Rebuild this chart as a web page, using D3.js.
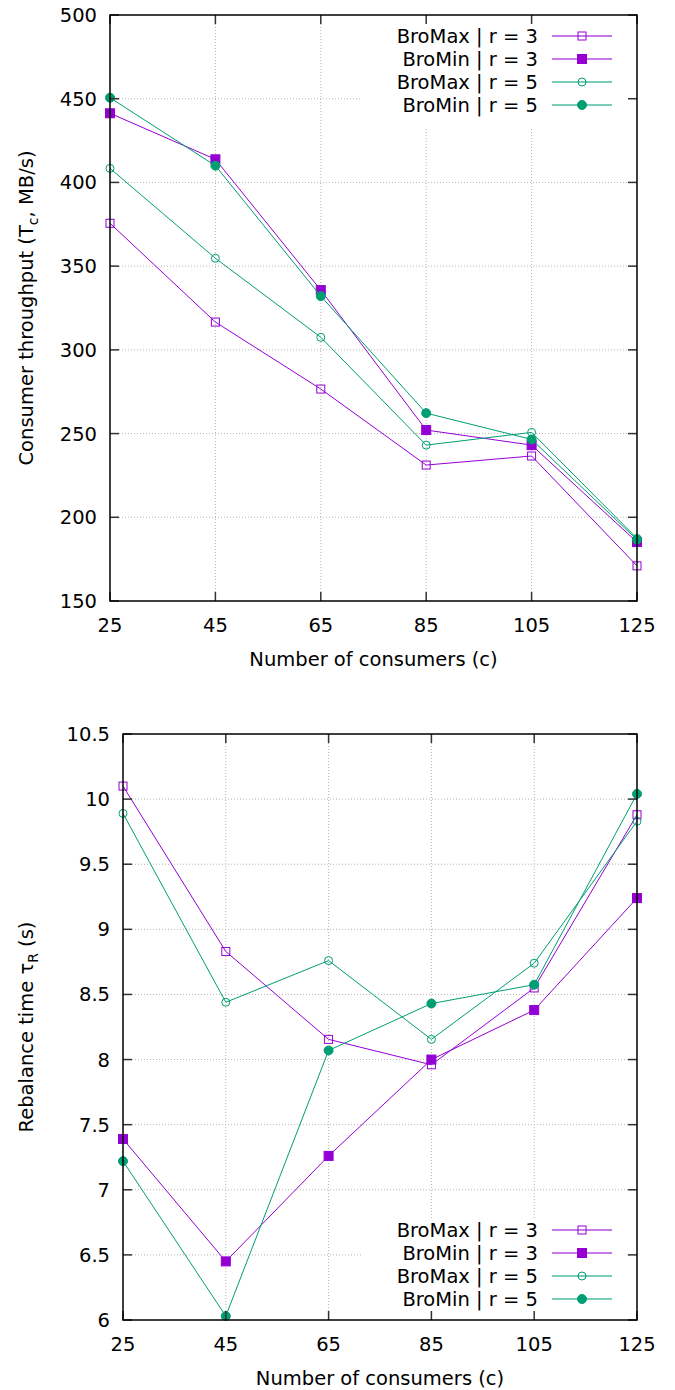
<!DOCTYPE html>
<html>
<head>
<meta charset="utf-8">
<script src="https://cdn.jsdelivr.net/npm/d3@7"></script>
<style>
  body { margin: 0; background: #fff; }
  svg text { font-family: "DejaVu Sans", sans-serif; fill: #000; }
</style>
</head>
<body>
<div id="chart"></div>
<script>
// data
const consumers = [25, 45, 65, 85, 105, 125];
const seriesNames = ['BroMax | r = 3', 'BroMin | r = 3', 'BroMax | r = 5', 'BroMin | r = 5'];

// throughput (MB/s)
const tpBroMaxR3 = [375.6, 316.6, 276.6, 231.2, 236.6, 171.0];
const tpBroMinR3 = [441.3, 413.8, 335.7, 252.1, 243.1, 185.2];
const tpBroMaxR5 = [408.4, 354.7, 307.5, 243.1, 250.7, 187.4];
const tpBroMinR5 = [450.6, 410.0, 332.1, 262.2, 246.5, 186.6];

// rebalance time (s)
const rbBroMaxR3 = [10.10, 8.83, 8.155, 7.96, 8.55, 9.88];
const rbBroMinR3 = [7.39, 6.45, 7.26, 8.00, 8.38, 9.24];
const rbBroMaxR5 = [9.89, 8.44, 8.76, 8.155, 8.74, 9.83];
const rbBroMinR5 = [7.22, 6.03, 8.07, 8.43, 8.575, 10.04];

const tpTicks = [150, 200, 250, 300, 350, 400, 450, 500];
const rbTicks = [6, 6.5, 7, 7.5, 8, 8.5, 9, 9.5, 10, 10.5];

const PURPLE = '#9400d3';
const GREEN = '#009e73';
const FS = 19.5;
// marker style per series
const styles = [
  {color: PURPLE, shape: 'square', filled: false},
  {color: PURPLE, shape: 'square', filled: true},
  {color: GREEN, shape: 'circle', filled: false},
  {color: GREEN, shape: 'circle', filled: true}
];

const WIDTH = 675;
const HEIGHT = 1390;

const svg = d3.select('#chart')
  .append('svg')
  .attr('width', WIDTH)
  .attr('height', HEIGHT);

function drawMarker(g, x, y, st) {
  if (st.shape === 'square') {
    const s = st.filled ? 9 : 8;
    g.append('rect')
      .attr('x', x - s / 2).attr('y', y - s / 2)
      .attr('width', s).attr('height', s)
      .attr('fill', st.filled ? st.color : 'none')
      .attr('stroke', st.color)
      .attr('stroke-width', 1);
  } else {
    g.append('circle')
      .attr('cx', x).attr('cy', y)
      .attr('r', st.filled ? 4.5 : 4)
      .attr('fill', st.filled ? st.color : 'none')
      .attr('stroke', st.color)
      .attr('stroke-width', 1);
  }
}

function drawChart(opts) {
  const g = svg.append('g');
  const x = d3.scaleLinear().domain([25, 125]).range([opts.left, opts.right]);
  const y = d3.scaleLinear().domain(opts.yDomain).range([opts.bottom, opts.top]);

  // grid
  g.selectAll('.hgrid').data(opts.yTicks.slice(1, -1)).enter()
    .append('line')
    .attr('x1', opts.left).attr('x2', opts.right)
    .attr('y1', d => y(d)).attr('y2', d => y(d))
    .attr('stroke', '#b8b8b8').attr('stroke-width', 1)
    .attr('stroke-dasharray', '1,2');
  g.selectAll('.vgrid').data(consumers.slice(1, -1)).enter()
    .append('line')
    .attr('x1', d => x(d)).attr('x2', d => x(d))
    .attr('y1', opts.top).attr('y2', opts.bottom)
    .attr('stroke', '#b8b8b8').attr('stroke-width', 1)
    .attr('stroke-dasharray', '1,2');

  // series lines and points
  opts.series.forEach((vals, i) => {
    const st = styles[i];
    const line = d3.line().x((d, j) => x(consumers[j])).y(d => y(d));
    g.append('path')
      .datum(vals)
      .attr('d', line)
      .attr('fill', 'none')
      .attr('stroke', st.color)
      .attr('stroke-width', 1);
    vals.forEach((v, j) => drawMarker(g, x(consumers[j]), y(v), st));
  });

  // legend, opaque box over grid
  const lg = g.append('g');
  lg.append('rect')
    .attr('x', opts.legend.x0).attr('y', opts.legend.y0 - 12)
    .attr('width', opts.right - opts.legend.x0 - 10)
    .attr('height', 23 * 4 + 12)
    .attr('fill', '#fff');
  seriesNames.forEach((name, i) => {
    const st = styles[i];
    const ly = opts.legend.y0 + i * 23;
    lg.append('text')
      .attr('x', 538).attr('y', ly)
      .attr('dy', '0.36em')
      .attr('text-anchor', 'end')
      .attr('font-size', FS)
      .text(name);
    lg.append('line')
      .attr('x1', 552).attr('x2', 612)
      .attr('y1', ly).attr('y2', ly)
      .attr('stroke', st.color).attr('stroke-opacity', 0.7)
      .attr('stroke-width', 1.5);
    drawMarker(lg, 582, ly, st);
  });

  // ticks (inward, mirrored)
  const tk = 9;
  opts.yTicks.forEach(t => {
    g.append('line').attr('x1', opts.left).attr('x2', opts.left + tk)
      .attr('y1', y(t)).attr('y2', y(t)).attr('stroke', '#333').attr('stroke-width', 1.5);
    g.append('line').attr('x1', opts.right).attr('x2', opts.right - tk)
      .attr('y1', y(t)).attr('y2', y(t)).attr('stroke', '#333').attr('stroke-width', 1.5);
    g.append('text')
      .attr('x', opts.left - 13).attr('y', y(t))
      .attr('dy', '0.36em')
      .attr('text-anchor', 'end')
      .attr('font-size', FS)
      .text(t);
  });
  consumers.forEach(c => {
    g.append('line').attr('x1', x(c)).attr('x2', x(c))
      .attr('y1', opts.bottom).attr('y2', opts.bottom - tk).attr('stroke', '#333').attr('stroke-width', 1.5);
    g.append('line').attr('x1', x(c)).attr('x2', x(c))
      .attr('y1', opts.top).attr('y2', opts.top + tk).attr('stroke', '#333').attr('stroke-width', 1.5);
    g.append('text')
      .attr('x', x(c)).attr('y', opts.bottom + 31)
      .attr('text-anchor', 'middle')
      .attr('font-size', FS)
      .text(c);
  });

  // border
  g.append('rect')
    .attr('x', opts.left).attr('y', opts.top)
    .attr('width', opts.right - opts.left)
    .attr('height', opts.bottom - opts.top)
    .attr('fill', 'none')
    .attr('stroke', '#000')
    .attr('stroke-width', 1.5);

  // axis labels
  g.append('text')
    .attr('x', (opts.left + opts.right) / 2)
    .attr('y', opts.bottom + 65)
    .attr('text-anchor', 'middle')
    .attr('font-size', FS)
    .text('Number of consumers (c)');

  const yl = g.append('text')
    .attr('transform', 'translate(33,' + ((opts.top + opts.bottom) / 2) + ') rotate(-90)')
    .attr('text-anchor', 'middle')
    .attr('font-size', FS);
  yl.append('tspan').text(opts.yLabel[0]);
  yl.append('tspan').attr('font-size', 14).attr('dy', 5).text(opts.yLabel[1]);
  yl.append('tspan').attr('dy', -5).text(opts.yLabel[2]);
}

drawChart({
  left: 110, right: 637, top: 15, bottom: 601,
  yDomain: [150, 500], yTicks: tpTicks,
  series: [tpBroMaxR3, tpBroMinR3, tpBroMaxR5, tpBroMinR5],
  legend: {x0: 362, y0: 36},
  yLabel: ['Consumer throughput (T', 'c', ', MB/s)']
});

drawChart({
  left: 123, right: 637, top: 734, bottom: 1320,
  yDomain: [6, 10.5], yTicks: rbTicks,
  series: [rbBroMaxR3, rbBroMinR3, rbBroMaxR5, rbBroMinR5],
  legend: {x0: 362, y0: 1230},
  yLabel: ['Rebalance time τ', 'R', ' (s)']
});
</script>
</body>
</html>
